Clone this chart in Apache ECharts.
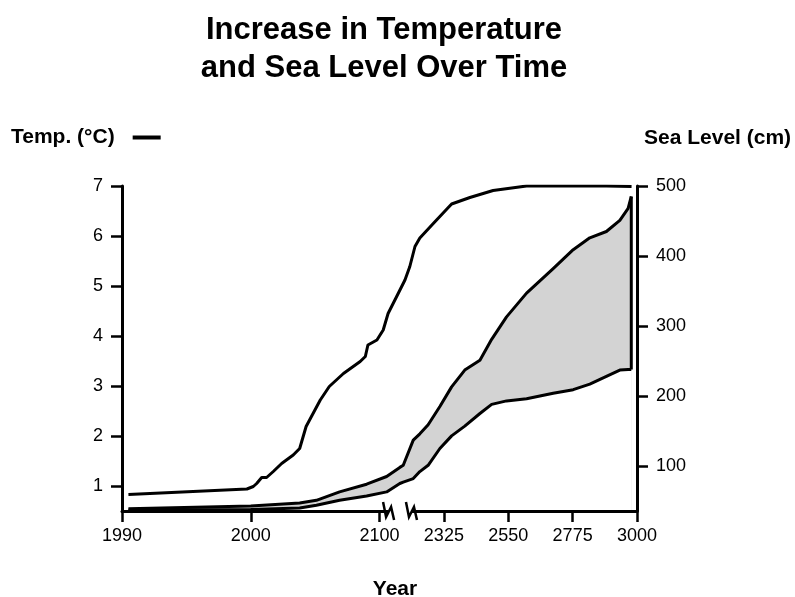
<!DOCTYPE html>
<html>
<head>
<meta charset="utf-8">
<script src="https://cdn.jsdelivr.net/npm/echarts@6/dist/echarts.min.js"></script>
<style>
  html, body { margin: 0; padding: 0; background: #fff; }
  #chart { width: 795px; height: 597px; }
</style>
</head>
<body>
<div id="chart"></div>
<script>
// x axis is piecewise: 1990-2000, 2000-2100, then 2100-3000 compressed
const tickYears = [1990, 2000, 2100, 2325, 2550, 2775, 3000]
const tempTicks = [1, 2, 3, 4, 5, 6, 7]
const seaTicks = [100, 200, 300, 400, 500]

// temperature (°C)
const tempYears = [1990.5, 1999.7, 2002, 2004.6, 2008.5, 2012.3, 2017.5, 2024, 2033, 2038, 2043, 2054,
  2061, 2072, 2085, 2089, 2091, 2098, 2113, 2130, 2160, 2189, 2206, 2224, 2241, 2288, 2352, 2416,
  2497, 2614, 2893, 2981]
const tempValues = [0.83, 0.94, 0.99, 1.05, 1.17, 1.17, 1.29, 1.45, 1.62, 1.75, 2.19, 2.72,
  2.99, 3.25, 3.49, 3.59, 3.82, 3.92, 4.12, 4.45, 4.79, 5.12, 5.39, 5.79, 5.96, 6.25, 6.64, 6.77,
  6.91, 7.0, 7.0, 6.99]

// sea level range (cm)
const seaYears = [1990.5, 2000, 2038, 2051, 2069, 2090, 2125, 2171, 2183, 2218, 2241, 2270, 2311,
  2352, 2398, 2451, 2492, 2544, 2614, 2707, 2777, 2835, 2893, 2940, 2969, 2980]
const seaHigh = [39, 43, 47, 51, 63, 74, 85, 98, 101, 137, 146, 159, 185,
  213, 237, 251, 281, 313, 347, 382, 409, 426, 435, 451, 468, 485]
const seaLow = [37, 38, 40, 44, 51, 57, 63, 75, 77, 82, 92, 101, 125,
  143, 157, 175, 188, 193, 196, 204, 209, 217, 228, 237, 238, 238]

// where the axis break marks sit
const breakYears = [2130, 2210]

function pos(year) {
  if (year <= 2000) return (year - 1990) / 5
  if (year <= 2100) return 2 + (year - 2000) / 50
  return 4 + (year - 2100) / 225
}

const tickPos = tickYears.map(pos)
const font = 'Liberation Sans, Arial, Helvetica, sans-serif'
const highData = seaYears.map((y, i) => [pos(y), seaHigh[i]])
const lowData = seaYears.map((y, i) => [pos(y), seaLow[i]])
const lastIdx = seaYears.length - 1

const chart = echarts.init(document.getElementById('chart'))

const axisLineStyle = { color: '#000', width: 3 }
const tickStyle = { color: '#000', width: 2.5 }
const labelStyle = { fontSize: 18, fontFamily: font, color: '#000' }

chart.setOption({
  animation: false,
  textStyle: { fontFamily: font, color: '#000' },
  title: [
    {
      text: 'Increase in Temperature\nand Sea Level Over Time',
      left: 384,
      top: 11,
      padding: 0,
      textAlign: 'center',
      textStyle: { fontFamily: font, fontSize: 31, fontWeight: 'bold', lineHeight: 38, color: '#000' }
    },
    {
      text: 'Year',
      left: 395,
      top: 579,
      padding: 0,
      textAlign: 'center',
      textStyle: { fontFamily: font, fontSize: 21, fontWeight: 'bold', color: '#000' }
    }
  ],
  legend: {
    data: [{ name: 'Temp. (°C)', icon: 'rect' }],
    left: 11,
    top: 127,
    padding: 0,
    align: 'right',
    itemWidth: 28,
    itemHeight: 4,
    selectedMode: false,
    textStyle: { fontFamily: font, fontSize: 21, fontWeight: 'bold', color: '#000', padding: [0, 13, 0, 0] }
  },
  grid: { left: 122, right: 158, top: 186, bottom: 86 },
  xAxis: {
    type: 'value',
    min: 0,
    max: 8,
    z: 10,
    axisLine: { lineStyle: axisLineStyle },
    axisTick: { customValues: tickPos, length: 11, lineStyle: tickStyle },
    axisLabel: {
      ...labelStyle,
      customValues: tickPos,
      margin: 16,
      formatter: v => {
        const i = tickPos.findIndex(p => Math.abs(p - v) < 1e-6)
        return i >= 0 ? String(tickYears[i]) : ''
      }
    },
    splitLine: { show: false }
  },
  yAxis: [
    {
      type: 'value',
      position: 'left',
      min: 0.5,
      max: 7,
      z: 10,
      axisLine: { show: true, lineStyle: axisLineStyle },
      axisTick: { show: true, customValues: tempTicks, length: 11, lineStyle: tickStyle },
      axisLabel: { ...labelStyle, customValues: tempTicks, margin: 19 },
      splitLine: { show: false }
    },
    {
      type: 'value',
      position: 'right',
      min: 35.7,
      max: 500,
      z: 10,
      name: 'Sea Level (cm)',
      nameLocation: 'end',
      nameGap: 48,
      nameTextStyle: {
        fontFamily: font, fontSize: 21, fontWeight: 'bold', color: '#000',
        align: 'left', verticalAlign: 'middle', padding: [0, 0, 0, 7]
      },
      axisLine: { show: true, lineStyle: axisLineStyle },
      axisTick: { show: true, customValues: seaTicks, length: 11, lineStyle: tickStyle },
      axisLabel: { ...labelStyle, customValues: seaTicks, margin: 19 },
      splitLine: { show: false }
    }
  ],
  series: [
    {
      // grey fill below the upper estimate
      name: 'Sea high fill',
      type: 'line',
      yAxisIndex: 1,
      showSymbol: false,
      silent: true,
      lineStyle: { width: 0 },
      areaStyle: { color: '#d3d3d3', opacity: 1 },
      data: highData,
      z: 2
    },
    {
      // white fill below the lower estimate leaves only the band grey
      name: 'Sea low fill',
      type: 'line',
      yAxisIndex: 1,
      showSymbol: false,
      silent: true,
      lineStyle: { width: 0 },
      areaStyle: { color: '#fff', opacity: 1 },
      data: lowData,
      z: 3
    },
    {
      name: 'Sea high',
      type: 'line',
      yAxisIndex: 1,
      showSymbol: false,
      silent: true,
      lineStyle: { color: '#000', width: 3, join: 'round' },
      data: highData,
      z: 4
    },
    {
      name: 'Sea low',
      type: 'line',
      yAxisIndex: 1,
      showSymbol: false,
      silent: true,
      lineStyle: { color: '#000', width: 3, join: 'round' },
      data: lowData,
      z: 4
    },
    {
      name: 'Sea edge',
      type: 'line',
      yAxisIndex: 1,
      showSymbol: false,
      silent: true,
      lineStyle: { color: '#000', width: 3 },
      data: [
        [pos(seaYears[lastIdx]), seaLow[lastIdx]],
        [pos(seaYears[lastIdx]), seaHigh[lastIdx]]
      ],
      z: 4
    },
    {
      name: 'Temp. (°C)',
      type: 'line',
      yAxisIndex: 0,
      showSymbol: false,
      silent: true,
      itemStyle: { color: '#000' },
      lineStyle: { color: '#000', width: 3, join: 'round' },
      data: tempYears.map((y, i) => [pos(y), tempValues[i]]),
      z: 5
    }
  ]
})

// axis break: gap in the x axis line with two zigzag marks
const axisY = chart.convertToPixel({ yAxisIndex: 0 }, 0.5)
const bx = breakYears.map(y => chart.convertToPixel({ xAxisIndex: 0 }, pos(y)))
const zig = cx => ({
  type: 'polyline',
  z: 100,
  shape: { points: [[cx - 5, axisY - 9], [cx - 2, axisY + 6], [cx + 3, axisY - 4], [cx + 6, axisY + 9]] },
  style: { stroke: '#000', lineWidth: 2.5, fill: null }
})
chart.setOption({
  graphic: [
    {
      type: 'rect',
      z: 99,
      shape: { x: bx[0], y: axisY - 3, width: bx[1] - bx[0], height: 6 },
      style: { fill: '#fff' }
    },
    zig(bx[0]),
    zig(bx[1])
  ]
})
</script>
</body>
</html>
